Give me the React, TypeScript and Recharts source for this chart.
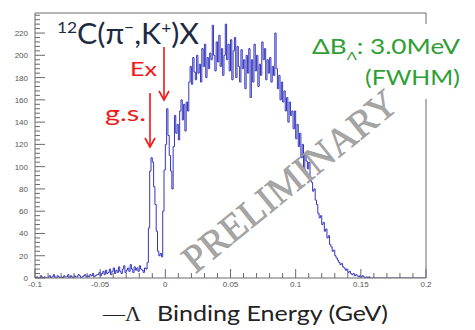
import React from "react";
import { LineChart, Line, XAxis, YAxis, ReferenceLine } from "recharts";

// Histogram: 1 MeV bins from -0.100 GeV to 0.200 GeV
const X_MIN = -0.1;
const X_MAX = 0.2;
const BIN = 0.001;
const Y_MAX = 238;

// bins -0.100 .. -0.016
const bgCounts = [
  0, 1, 0, 0, 2, 1, 0, 1, 0, 0, 1, 2, 0, 1, 3, 1, 0, 2, 1, 0,
  1, 0, 2, 1, 1, 3, 0, 2, 1, 0, 2, 1, 1, 3, 2, 0, 1, 2, 3, 1,
  2, 1, 3, 2, 4, 1, 2, 3,
  3, 5, 2, 4, 6, 3, 7, 4, 5, 8, 3, 6, 9, 4, 7, 5, 10, 6, 4, 8,
  11, 5, 7, 9, 6, 12, 8, 5, 10, 7, 9, 6, 11, 8, 7, 5, 9,
];
// bins -0.015 .. -0.003 (ground state)
const gsCounts = [8, 14, 45, 96, 108, 104, 82, 66, 42, 24, 20, 22, 19];
// bins -0.002 .. 0.099
const mainCounts = [
  60, 97, 120, 152, 128, 110, 96, 80, 118, 146,
  130, 138, 124, 150, 160, 142, 156, 132, 158, 150,
  176, 190, 174, 198, 185, 178, 200, 184, 192, 176,
  206, 190, 210, 180, 198, 188, 202, 196, 227, 200,
  186, 212, 194, 218, 190, 206, 182, 200, 228, 196,
  210, 186, 214, 178, 204, 216, 180, 208, 190, 176,
  205, 188, 196, 170, 200, 184, 206, 162, 196, 176,
  210, 186, 200, 172, 192, 182, 212, 196, 206, 178,
  196, 184, 198, 176, 190, 182, 220, 188, 170, 182,
  160, 176, 158, 168, 150, 162, 140, 158, 146, 150,
  134, 150,
];
// bins 0.100 .. 0.199
const tailCounts = [
  125, 138, 118, 130, 108, 120, 96, 112, 105, 98,
  104, 90, 86, 78, 80, 70, 66, 58, 54, 56,
  48, 50, 42, 44, 36, 38, 30, 28, 24, 25,
  20, 18, 16, 14, 12, 13, 10, 9, 7, 8,
  5, 6, 4, 3, 4, 2, 3, 2, 1, 2,
  1, 2, 1, 0, 1, 0, 1, 0, 0, 0,
  0, 0, 0, 0, 0, 0, 0, 0, 0, 0,
  0, 0, 0, 0, 0, 0, 0, 0, 0, 0,
  0, 0, 0, 0, 0, 0, 0, 0, 0, 0,
  0, 0, 0, 0, 0, 0, 0, 0, 0, 0,
];

const xMajorTicks = [-0.1, -0.05, 0, 0.05, 0.1, 0.15, 0.2];
const xMajorLabels = ["-0.1", "-0.05", "0", "0.05", "0.1", "0.15", "0.2"];
const yMajorTicks = [0, 20, 40, 60, 80, 100, 120, 140, 160, 180, 200, 220];
const X_MINOR_STEP = 0.01;
const Y_MINOR_STEP = 4;

const counts = [...bgCounts, ...gsCounts, ...mainCounts, ...tailCounts];
const data = counts.map((c, i) => ({ e: +(X_MIN + i * BIN).toFixed(4), c }));
data.push({ e: X_MAX, c: counts[counts.length - 1] });

const xTicks: number[] = [];
for (let v = X_MIN; v <= X_MAX + 1e-9; v += X_MINOR_STEP) xTicks.push(+v.toFixed(3));
const yTicks: number[] = [];
for (let v = 0; v <= Y_MAX; v += Y_MINOR_STEP) yTicks.push(v);

const AXIS_COLOR = "#6a6a6a";
const LABEL_COLOR = "#555";

const XTick = (props: any) => {
  const { x, y, payload } = props;
  const idx = xMajorTicks.findIndex((t) => Math.abs(t - payload.value) < 1e-6);
  const major = idx >= 0;
  return (
    <g>
      <line x1={x} x2={x} y1={y} y2={y - (major ? 9 : 5)} stroke={AXIS_COLOR} strokeWidth={1} />
      {major && (
        <text x={x} y={y + 9} textAnchor="middle" fontSize={8} fontFamily="Liberation Sans, Arial" fill={LABEL_COLOR}>
          {xMajorLabels[idx]}
        </text>
      )}
    </g>
  );
};

const YTick = (props: any) => {
  const { x, y, payload } = props;
  const major = yMajorTicks.includes(payload.value);
  return (
    <g>
      <line x1={x} x2={x + (major ? 10 : 5)} y1={y} y2={y} stroke={AXIS_COLOR} strokeWidth={1} />
      {major && (
        <text x={x - 7} y={y + 3} textAnchor="end" fontSize={8} fontFamily="Liberation Sans, Arial" fill={LABEL_COLOR}>
          {payload.value}
        </text>
      )}
    </g>
  );
};

export default function App() {
  return (
    <div style={{ position: "absolute", left: 0, top: 0, width: 475, height: 330, background: "#fff" }}>
      <LineChart width={475} height={330} data={data} margin={{ top: 13, right: 49, left: 0, bottom: 0 }}>
        <XAxis
          dataKey="e"
          type="number"
          domain={[X_MIN, X_MAX]}
          ticks={xTicks}
          interval={0}
          tick={<XTick />}
          tickLine={false}
          tickSize={0}
          tickMargin={0}
          height={52}
          axisLine={{ stroke: AXIS_COLOR }}
          allowDataOverflow
        />
        <YAxis
          type="number"
          domain={[0, Y_MAX]}
          ticks={yTicks}
          interval={0}
          tick={<YTick />}
          tickLine={false}
          tickSize={0}
          tickMargin={0}
          width={35}
          axisLine={{ stroke: AXIS_COLOR }}
          allowDataOverflow
        />
        <ReferenceLine y={Y_MAX} stroke={AXIS_COLOR} ifOverflow="visible" />
        <ReferenceLine x={X_MAX} stroke={AXIS_COLOR} ifOverflow="visible" />
        <Line
          dataKey="c"
          type="stepAfter"
          dot={false}
          stroke="#3535bd"
          strokeWidth={1}
          isAnimationActive={false}
        />
      </LineChart>
      <svg
        width={475}
        height={330}
        style={{ position: "absolute", left: 0, top: 0, pointerEvents: "none" }}
      >
        <rect x={306} y={24} width={166} height={75} fill="#fff" />
        <text
          x={298}
          y={191}
          transform="rotate(-39 298 191)"
          textAnchor="middle"
          fontFamily="Liberation Serif, Times New Roman, serif"
          fontSize={39}
          fill="#a6a6a6"
          stroke="#8a8a8a"
          strokeWidth={0.4}
        >
          PRELIMINARY
        </text>
        <text
          x={57}
          y={44}
          fontFamily="Lato, sans-serif"
          fontSize={28}
          fill="#1e2a44"
          textLength={142}
          lengthAdjust="spacingAndGlyphs"
        >
          <tspan fontSize={16} dy={-11}>12</tspan>
          <tspan dy={11}>C(π</tspan>
          <tspan fontSize={16} dy={-11}>−</tspan>
          <tspan dy={11}>,K</tspan>
          <tspan fontSize={16} dy={-11}>+</tspan>
          <tspan dy={11}>)X</tspan>
        </text>
        <text x={130} y={76} fontFamily="Lato, sans-serif" fontSize={20} fill="#f01818" textLength={27} lengthAdjust="spacingAndGlyphs">Ex</text>
        <text x={105} y={121} fontFamily="Lato, sans-serif" fontSize={22} fill="#f01818" textLength={41} lengthAdjust="spacingAndGlyphs">g.s.</text>
        <g stroke="#f01818" strokeWidth={1.6} fill="none">
          <line x1={164} x2={164} y1={47} y2={99} />
          <polyline points="159,91 164,100 169,91" />
          <line x1={150} x2={150} y1={93} y2={146} />
          <polyline points="145,138 150,147 155,138" />
        </g>
        <text x={312} y={54} fontFamily="Lato, sans-serif" fontSize={21} fill="#2f9e35" textLength={148} lengthAdjust="spacingAndGlyphs">
          ΔB<tspan fontSize={12} dy={6}>Λ</tspan><tspan dy={-6}>:  3.0MeV</tspan>
        </text>
        <text x={365} y={85} fontFamily="Lato, sans-serif" fontSize={22} fill="#2f9e35" textLength={95} lengthAdjust="spacingAndGlyphs">(FWHM)</text>
        <text x={103} y={321} fontFamily="Liberation Serif, serif" fontSize={22} fill="#222">—Λ</text>
        <text x={157} y={321} fontFamily="Lato, sans-serif" fontSize={22} fill="#222" textLength={231} lengthAdjust="spacingAndGlyphs">Binding Energy (GeV)</text>
      </svg>
    </div>
  );
}
